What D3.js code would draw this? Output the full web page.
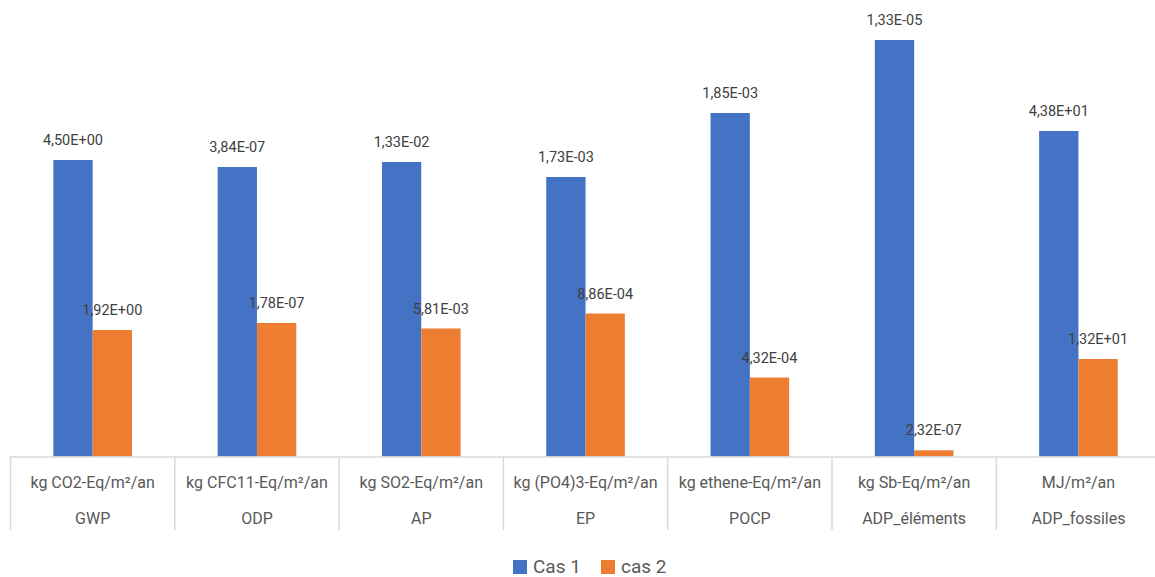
<!DOCTYPE html>
<html><head><meta charset="utf-8">
<script src="https://cdn.jsdelivr.net/npm/d3@7"></script>
<style>
html,body{margin:0;padding:0;background:#fff;}
svg{display:block;font-family:"Segoe UI",Roboto,"Open Sans",sans-serif;}
</style></head>
<body><svg id="c" width="1155" height="577"></svg>
<script>
// Categories (two-level axis)
const indicators = ["GWP","ODP","AP","EP","POCP","ADP_éléments","ADP_fossiles"];
const units = ["kg CO2-Eq/m²/an","kg CFC11-Eq/m²/an","kg SO2-Eq/m²/an","kg (PO4)3-Eq/m²/an","kg ethene-Eq/m²/an","kg Sb-Eq/m²/an","MJ/m²/an"];
// Series labels (as printed on the chart)
const seriesNames = ["Cas 1","cas 2"];
const cas1Labels = ["4,50E+00","3,84E-07","1,33E-02","1,73E-03","1,85E-03","1,33E-05","4,38E+01"];
const cas2Labels = ["1,92E+00","1,78E-07","5,81E-03","8,86E-04","4,32E-04","2,32E-07","1,32E+01"];
// Plotted (relative) bar heights
const cas1Plot = [296.5, 289.5, 294.5, 279.5, 343.5, 416.5, 325.5];
const cas2Plot = [126.5, 133.5, 128, 143, 79, 6.2, 97.5];

const svg = d3.select("#c");
const baseY = 456.5;
const x0 = d3.scaleBand().domain(indicators).range([10.5, 1160.6]).paddingInner(0).paddingOuter(0);
const x1 = d3.scaleBand().domain(seriesNames).range([0, x0.bandwidth()]).paddingInner(0).paddingOuter(1.09);
const y = d3.scaleLinear().domain([0, 450]).range([baseY, 6.5]);
const colors = d3.scaleOrdinal().domain(seriesNames).range(["#4472C4","#ED7D31"]);

const data = indicators.map((k,i)=>({k, vals:[
  {s:seriesNames[0], v:cas1Plot[i], lab:cas1Labels[i]},
  {s:seriesNames[1], v:cas2Plot[i], lab:cas2Labels[i]}]}));

const g = svg.selectAll("g.cat").data(data).join("g").attr("class","cat")
  .attr("transform", d=>`translate(${x0(d.k)},0)`);
g.selectAll("rect").data(d=>d.vals).join("rect")
  .attr("x", d=>x1(d.s)).attr("width", x1.bandwidth())
  .attr("y", d=>y(d.v)).attr("height", d=>baseY - y(d.v))
  .attr("fill", d=>colors(d.s));
g.selectAll("text.lab").data(d=>d.vals).join("text").attr("class","lab")
  .attr("x", d=>x1(d.s)+x1.bandwidth()/2).attr("y", d=>y(d.v)-15)
  .attr("text-anchor","middle").attr("font-size",14.5).attr("fill","#404040")
  .text(d=>d.lab);

// category axis with two levels
const axisG = svg.append("g");
axisG.append("line").attr("x1",x0.range()[0]).attr("x2",x0.range()[1]).attr("y1",baseY+0.5).attr("y2",baseY+0.5)
  .attr("stroke","#D9D9D9").attr("stroke-width",1.5);
const seps = indicators.map(k=>x0(k)).concat([x0.range()[1]]);
axisG.selectAll("line.sep").data(seps).join("line").attr("class","sep")
  .attr("x1",d=>d).attr("x2",d=>d).attr("y1",baseY).attr("y2",530)
  .attr("stroke","#D9D9D9").attr("stroke-width",1.5);
axisG.selectAll("text.unit").data(indicators).join("text").attr("class","unit")
  .attr("x",(d)=>x0(d)+x0.bandwidth()/2).attr("y",488)
  .attr("text-anchor","middle").attr("font-size",16).attr("fill","#595959")
  .text((d,i)=>units[i]);
axisG.selectAll("text.ind").data(indicators).join("text").attr("class","ind")
  .attr("x",(d)=>x0(d)+x0.bandwidth()/2).attr("y",524)
  .attr("text-anchor","middle").attr("font-size",16).attr("fill","#595959")
  .text(d=>d);

// legend
const legX = [513, 601];
const leg = svg.selectAll("g.leg").data(seriesNames).join("g").attr("class","leg")
  .attr("transform",(d,i)=>`translate(${legX[i]},560)`);
leg.append("rect").attr("width",14).attr("height",14).attr("fill",d=>colors(d));
leg.append("text").attr("x",20).attr("y",13).attr("font-size",19).attr("fill","#595959").text(d=>d);
</script></body></html>
